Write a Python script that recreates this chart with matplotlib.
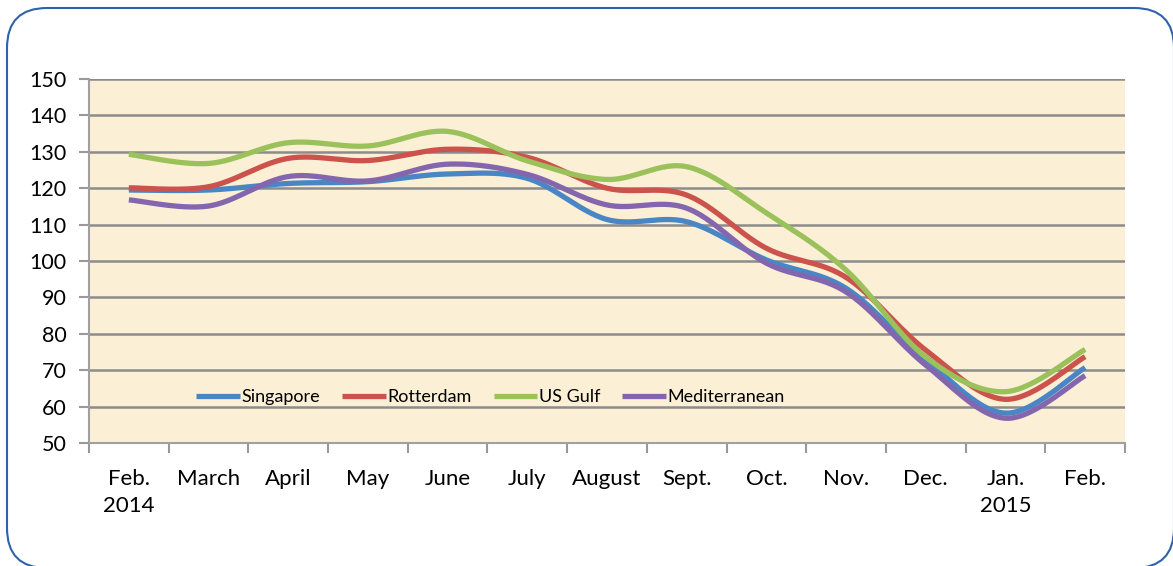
import numpy as np
import matplotlib
matplotlib.use('Agg')
from matplotlib import pyplot as plt
from matplotlib.patches import FancyBboxPatch
from matplotlib.transforms import IdentityTransform

months = ['Feb.\n2014', 'March', 'April', 'May', 'June', 'July', 'August',
          'Sept.', 'Oct.', 'Nov.', 'Dec.', 'Jan.\n2015', 'Feb.']
singapore = [119.5, 119.5, 121.3, 121.8, 123.9, 122.7, 111.4, 110.8, 100.3, 92.5, 72.8, 58.2, 70.7]
rotterdam = [120.1, 120.4, 128.2, 127.6, 130.7, 128.5, 120.0, 118.1, 103.5, 95.5, 75.5, 62.0, 73.7]
us_gulf = [129.3, 126.8, 132.5, 131.6, 135.6, 127.5, 122.4, 125.9, 113.2, 97.5, 73.6, 64.1, 75.7]
mediterranean = [116.8, 115.1, 123.2, 122.0, 126.6, 123.8, 115.4, 114.5, 99.4, 91.5, 71.4, 56.8, 68.5]

series = [('Singapore', singapore, '#4A86C5'),
          ('Rotterdam', rotterdam, '#CC524C'),
          ('US Gulf', us_gulf, '#9BC25A'),
          ('Mediterranean', mediterranean, '#8466AE')]


def smooth(y, n=30):
    # excel-like smoothed line (catmull-rom bezier)
    y = np.asarray(y, float)
    x = np.arange(len(y), dtype=float)
    px = np.concatenate([[x[0]], x, [x[-1]]])
    py = np.concatenate([[y[0]], y, [y[-1]]])
    xs, ys = [], []
    t = np.linspace(0, 1, n)
    for i in range(1, len(px) - 2):
        p0 = np.array([px[i], py[i]])
        p3 = np.array([px[i + 1], py[i + 1]])
        p1 = p0 + (p3 - np.array([px[i - 1], py[i - 1]])) / 6
        p2 = p3 - (np.array([px[i + 2], py[i + 2]]) - p0) / 6
        b = ((1 - t) ** 3)[:, None] * p0 + (3 * (1 - t) ** 2 * t)[:, None] * p1 \
            + (3 * (1 - t) * t ** 2)[:, None] * p2 + (t ** 3)[:, None] * p3
        xs.extend(b[:, 0])
        ys.extend(b[:, 1])
    return np.array(xs), np.array(ys)


plt.rcParams['font.family'] = ['Lato', 'DejaVu Sans']

fig = plt.figure(figsize=(11.73, 5.66), dpi=100)
fig.patch.set_facecolor('white')

# rounded frame, pixel coords (origin bottom-left)
box = FancyBboxPatch((7, -2), 1167, 560,
                     boxstyle='round,pad=0,rounding_size=40',
                     transform=IdentityTransform(), facecolor='none',
                     edgecolor='#2E62AE', linewidth=1.5)
fig.patches.append(box)

ax = fig.add_axes([89 / 1173, 1 - 443 / 566, (1125 - 89) / 1173, (443 - 79) / 566])
ax.set_facecolor('#FBF0D6')

for name, vals, col in series:
    sx, sy = smooth(vals)
    ax.plot(sx, sy, color=col, lw=3.8, label=name, solid_capstyle='butt', zorder=3)

ax.set_xlim(-0.5, len(months) - 0.5)
ax.set_ylim(50, 150)
ax.set_yticks(range(50, 151, 10))
ax.set_xticks(np.arange(len(months)))
ax.set_xticklabels(months, fontsize=16, linespacing=1.4)
ax.set_xticks(np.arange(-0.5, len(months), 1), minor=True)
ax.tick_params(axis='x', which='major', length=0, pad=19)
ax.tick_params(axis='x', which='minor', length=7, color='#999999', width=1.5)
ax.tick_params(axis='y', length=7, color='#999999', width=1.5, labelsize=15.5, pad=9)
ax.grid(axis='y', color='#8C8C8C', lw=1.8, zorder=1)
for s in ['top', 'right']:
    ax.spines[s].set_visible(False)
for s in ['left', 'bottom']:
    ax.spines[s].set_color('#A0A0A0')
    ax.spines[s].set_linewidth(1.5)

ax.legend(loc='lower left', bbox_to_anchor=(0.088, 0.06), ncol=4, frameon=False,
          fontsize=13, handlelength=2.4, handletextpad=0.12, columnspacing=1.2)

fig.savefig('out.png', dpi=100)
